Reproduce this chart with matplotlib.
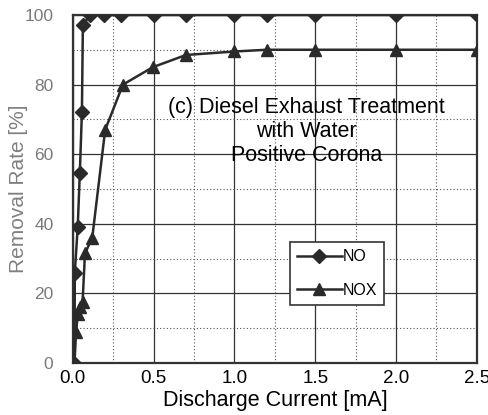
import matplotlib
matplotlib.use("Agg")
import matplotlib.pyplot as plt
from matplotlib.ticker import MultipleLocator

plt.rcParams['font.family'] = ['Liberation Sans', 'DejaVu Sans']

# ======= DATA =========================================
no_current = [0.01, 0.012, 0.03, 0.043, 0.056, 0.062, 0.105, 0.19, 0.30, 0.50, 0.70, 1.0, 1.2, 1.5, 2.0, 2.5]
no_removal = [0, 26, 39, 54.5, 72, 97, 100, 100, 100, 100, 100, 100, 100, 100, 100, 100]

nox_current = [0.01, 0.02, 0.03, 0.045, 0.06, 0.075, 0.12, 0.20, 0.31, 0.495, 0.70, 1.0, 1.2, 1.5, 2.0, 2.5]
nox_removal = [0, 9, 14, 16, 17.5, 31.5, 36, 67, 80, 85, 88.5, 89.5, 90, 90, 90, 90]

x_ticks = [0.0, 0.5, 1.0, 1.5, 2.0, 2.5]
y_ticks = [0, 20, 40, 60, 80, 100]

# ======= PLOT ===========
fig = plt.figure(figsize=(4.89, 4.15), dpi=100)
ax = fig.add_axes([0.149, 0.125, 0.826, 0.839])

ax.plot(no_current, no_removal, marker='D', markersize=7, color='#2a2a2a',
        linewidth=1.8, label='NO', zorder=4)
ax.plot(nox_current, nox_removal, marker='^', markersize=9, color='#2a2a2a',
        linewidth=1.8, label='NOX', zorder=3)

ax.set_xlim(0, 2.5)
ax.set_ylim(0, 100)
ax.set_xticks(x_ticks)
ax.set_yticks(y_ticks)
ax.xaxis.set_minor_locator(MultipleLocator(0.25))
ax.yaxis.set_minor_locator(MultipleLocator(10))
ax.set_xticklabels([f"{v:.1f}" for v in x_ticks], fontsize=13.5)
ax.set_yticklabels([str(v) for v in y_ticks], fontsize=12.5, color='#7a7a7a')
ax.tick_params(which='both', length=0)
ax.tick_params(axis='x', pad=5)
ax.tick_params(axis='y', pad=14)

ax.grid(True, which='major', color='#333333', linewidth=0.9, linestyle='-')
ax.grid(True, which='minor', color='#555555', linewidth=0.8, linestyle=(0, (1, 2)))
ax.set_axisbelow(True)
for s in ax.spines.values():
    s.set_linewidth(1.6)
    s.set_color('#333333')

ax.set_xlabel('Discharge Current [mA]', fontsize=15.5, labelpad=2)
ax.set_ylabel('Removal Rate [%]', fontsize=15, color='#808080')
ax.yaxis.set_label_coords(-0.111, 0.5)

ax.text(1.448, 76.5, '(c) Diesel Exhaust Treatment\nwith Water\nPositive Corona',
        ha='center', va='top', fontsize=15.5, linespacing=1.2, zorder=2)

leg = ax.legend(loc='upper left', bbox_to_anchor=(0.537, 0.348), borderaxespad=0,
                fontsize=11.5, handlelength=2.8, handletextpad=0.05,
                labelspacing=1.15, borderpad=0.45, fancybox=False,
                framealpha=1, edgecolor='#333333')
leg.get_frame().set_linewidth(1.2)
leg.set_zorder(5)

fig.savefig('out.png', dpi=100)
